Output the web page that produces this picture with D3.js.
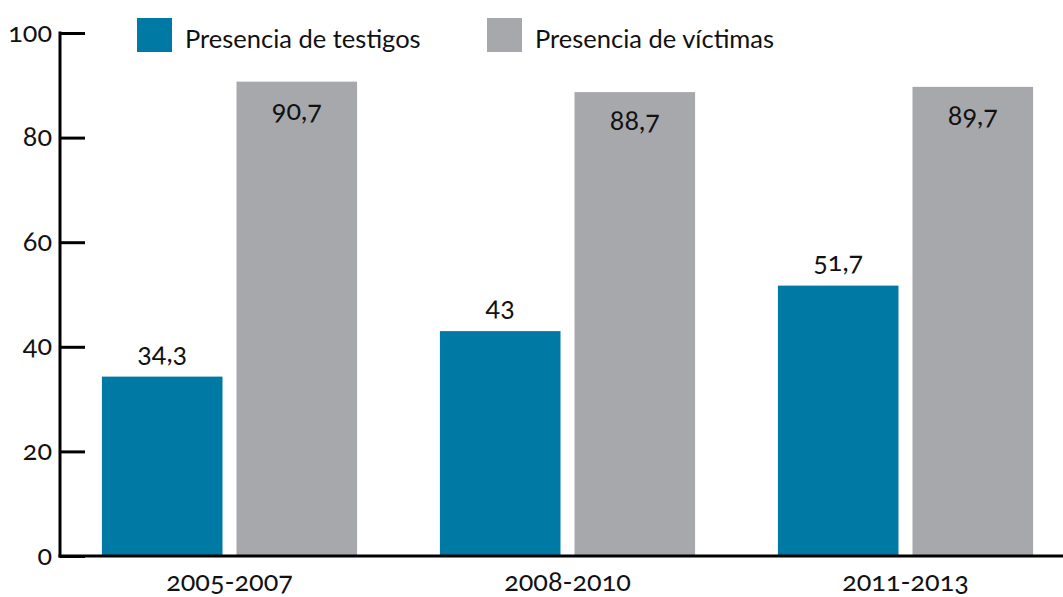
<!DOCTYPE html>
<html><head><meta charset="utf-8">
<script src="https://cdn.jsdelivr.net/npm/d3@7"></script>
<style>
html,body{margin:0;padding:0;background:#fff;}
svg{display:block;font-family:Lato,"Open Sans",sans-serif;font-variant-numeric:oldstyle-nums;}
</style></head>
<body><svg id="c" width="1063" height="597"></svg>
<script>
const categories = ["2005-2007","2008-2010","2011-2013"];
const seriesNames = ["Presencia de testigos","Presencia de víctimas"];
const testigos = [34.3, 43, 51.7];
const victimas = [90.7, 88.7, 89.7];
const testigosLabels = ["34,3","43","51,7"];
const victimasLabels = ["90,7","88,7","89,7"];
const yTicks = [0,20,40,60,80,100];
const colors = ["#0079a5","#a7a8ac"];

const svg = d3.select("#c");
const x0 = d3.scaleBand().domain(categories).range([60, 1075]).paddingInner(0.245).paddingOuter(0.124);
const x1 = d3.scaleBand().domain(seriesNames).range([0, x0.bandwidth()]).paddingInner(0.104).paddingOuter(0);
const y = d3.scaleLinear().domain([0,100]).range([556, 33]);

const rows = categories.map((c,i)=>({cat:c, vals:[
  {s:seriesNames[0], v:testigos[i], lab:testigosLabels[i], inside:false},
  {s:seriesNames[1], v:victimas[i], lab:victimasLabels[i], inside:true}]}));

const g = svg.selectAll("g.grp").data(rows).join("g").attr("class","grp")
  .attr("transform", d=>`translate(${x0(d.cat)},0)`);
g.selectAll("rect").data(d=>d.vals).join("rect")
  .attr("x", d=>x1(d.s)).attr("width", x1.bandwidth())
  .attr("y", d=>y(d.v)).attr("height", d=>y(0)-y(d.v))
  .attr("fill", (d,i)=>colors[i]);
g.selectAll("text.val").data(d=>d.vals).join("text").attr("class","val")
  .attr("x", d=>x1(d.s)+x1.bandwidth()/2)
  .attr("y", d=> d.inside ? y(d.v)+38 : y(d.v)-15)
  .attr("text-anchor","middle").attr("font-size",27).attr("fill","#111")
  .text(d=>d.lab);

// y axis
const yAxis = d3.axisRight(y).tickValues(yTicks).tickSize(25).tickFormat(d=>d);
const ya = svg.append("g").attr("transform","translate(60,0)").call(yAxis);
ya.select(".domain").remove();
ya.selectAll(".tick line").attr("stroke","#000").attr("stroke-width",3);
ya.selectAll(".tick text").attr("x",-8).attr("dy","0.3em").attr("text-anchor","end").attr("font-size",27).attr("fill","#111").attr("font-family","Lato,sans-serif");
svg.append("line").attr("x1",60).attr("x2",60).attr("y1",y(100)-1.5).attr("y2",y(0)+1.5).attr("stroke","#000").attr("stroke-width",3);
// x baseline
svg.append("line").attr("x1",58.5).attr("x2",1063).attr("y1",y(0)).attr("y2",y(0)).attr("stroke","#000").attr("stroke-width",3);
// x labels
const xAxis = d3.axisBottom(x0).tickSize(0).tickPadding(0);
const xa = svg.append("g").attr("transform",`translate(0,${y(0)})`).call(xAxis);
xa.select(".domain").remove();
xa.selectAll(".tick text").attr("y",35).attr("dy",0).attr("font-size",27).attr("fill","#111").attr("font-family","Lato,sans-serif");

// legend
const leg = svg.append("g");
const legX = [137, 487];
seriesNames.forEach((s,i)=>{
  leg.append("rect").attr("x",legX[i]).attr("y",18).attr("width",35).attr("height",34).attr("fill",colors[i]);
  leg.append("text").attr("x",legX[i]+48).attr("y",48).attr("font-size",25.5).attr("fill","#111").text(s);
});
</script></body></html>
